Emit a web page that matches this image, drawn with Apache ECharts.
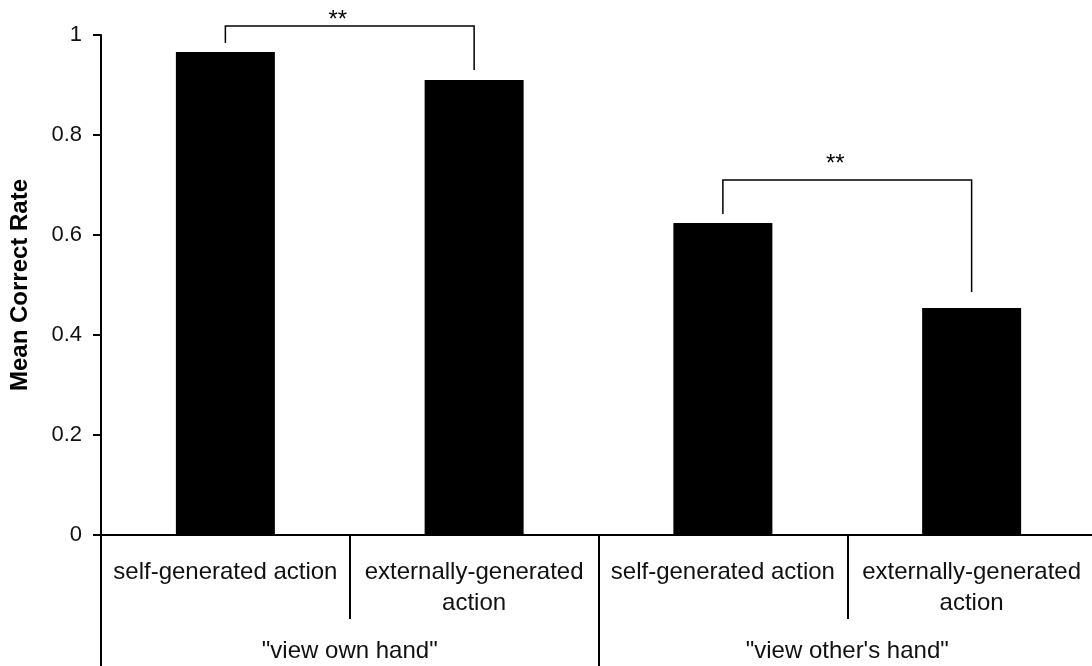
<!DOCTYPE html>
<html>
<head>
<meta charset="utf-8">
<script src="https://cdn.jsdelivr.net/npm/echarts@6/dist/echarts.min.js"></script>
<style>
  html, body { margin: 0; padding: 0; background: #fff; }
  #chart { width: 1092px; height: 666px; }
</style>
</head>
<body>
<div id="chart"></div>
<script>
// Conditions (inner axis level) and viewing groups (outer axis level)
const categories = [
  'self-generated action',
  'externally-generated\naction',
  'self-generated action',
  'externally-generated\naction'
];
const groups = ['"view own hand"', '"view other\'s hand"'];

// Mean correct rate per condition
const meanCorrect = [0.966, 0.910, 0.624, 0.454];

// Significance brackets: [fromIndex, toIndex, barTop, leftEnd, rightEnd, starLevel]
const brackets = [
  [0, 1, 1.018, 0.984, 0.930, 1.038],
  [2, 3, 0.710, 0.642, 0.486, 0.750]
];
const sigLabels = ['**', '**'];

const FONT = '"Liberation Sans", Arial, Helvetica, sans-serif';
const chart = echarts.init(document.getElementById('chart'), null, { renderer: 'canvas' });

chart.setOption({
  backgroundColor: '#ffffff',
  animation: false,
  // plot runs slightly past the right edge so the outer boundary line stays off-canvas
  grid: {
    left: 101, width: 995, top: 35, height: 500,
    containLabel: false,
    outerBoundsMode: 'none'
  },
  xAxis: [
    {
      type: 'category',
      data: categories,
      position: 'bottom',
      axisLine: { show: true, lineStyle: { color: '#000', width: 2 } },
      axisTick: { show: true, length: 84, alignWithLabel: false, lineStyle: { color: '#000', width: 2 } },
      axisLabel: {
        interval: 0,
        margin: 22,
        color: '#111',
        fontFamily: FONT,
        fontSize: 24,
        lineHeight: 31
      }
    },
    {
      type: 'category',
      data: groups,
      position: 'bottom',
      axisLine: { show: true, lineStyle: { color: '#000', width: 2 } },
      axisTick: { show: true, length: 131, alignWithLabel: false, lineStyle: { color: '#000', width: 2 } },
      axisLabel: {
        interval: 0,
        margin: 101,
        color: '#111',
        fontFamily: FONT,
        fontSize: 24,
        lineHeight: 31
      }
    }
  ],
  yAxis: {
    type: 'value',
    min: 0,
    max: 1,
    interval: 0.2,
    name: 'Mean Correct Rate',
    nameLocation: 'middle',
    nameRotate: 90,
    nameGap: 69,
    nameTextStyle: { color: '#000', fontFamily: FONT, fontSize: 24, fontWeight: 'bold' },
    axisLine: { show: true, lineStyle: { color: '#000', width: 2 } },
    axisTick: { show: true, length: 8, lineStyle: { color: '#000', width: 2 } },
    splitLine: { show: false },
    axisLabel: { margin: 19, color: '#111', fontFamily: FONT, fontSize: 22 }
  },
  series: [
    {
      type: 'bar',
      data: meanCorrect,
      barWidth: 99,
      itemStyle: { color: '#000' },
      xAxisIndex: 0,
      yAxisIndex: 0
    },
    {
      type: 'custom',
      xAxisIndex: 0,
      yAxisIndex: 0,
      clip: false,
      silent: true,
      data: brackets,
      encode: { x: [0, 1], y: [2, 3, 4, 5] },
      renderItem: function (params, api) {
        const topL = api.coord([api.value(0), api.value(2)]);
        const topR = api.coord([api.value(1), api.value(2)]);
        const endL = api.coord([api.value(0), api.value(3)]);
        const endR = api.coord([api.value(1), api.value(4)]);
        const star = api.coord([api.value(0), api.value(5)]);
        const style = { stroke: '#000', lineWidth: 1.5, fill: null };
        return {
          type: 'group',
          children: [
            { type: 'polyline', shape: { points: [endL, topL, topR, endR] }, style: style },
            {
              type: 'text',
              style: {
                text: sigLabels[params.dataIndex],
                // asterisks sit high in the em box, so nudge them down a little
                x: (topL[0] + topR[0]) / 2 - 12,
                y: star[1] + 4,
                align: 'center',
                verticalAlign: 'middle',
                fill: '#000',
                font: '24px ' + FONT
              }
            }
          ]
        };
      }
    }
  ]
});
</script>
</body>
</html>
